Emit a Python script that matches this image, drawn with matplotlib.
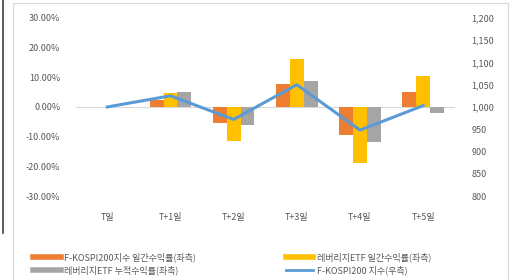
import matplotlib.pyplot as plt
import numpy as np
from matplotlib.lines import Line2D
from matplotlib.patches import Rectangle
from matplotlib.ticker import FuncFormatter

plt.rcParams['font.family'] = ['Noto Sans CJK KR', 'DejaVu Sans']

categories = ['T일', 'T+1일', 'T+2일', 'T+3일', 'T+4일', 'T+5일']
kospi_daily = [0.0, 2.5, -5.5, 7.8, -9.6, 5.0]          # % (좌측)
lev_daily = [0.0, 4.8, -11.5, 16.2, -19.0, 10.3]        # % (좌측)
lev_cum = [0.0, 5.2, -6.0, 8.8, -11.8, -2.2]            # % (좌측)
kospi_index = [1000, 1025, 972, 1050, 948, 1003]        # (우측)

labels = ['F-KOSPI200지수 일간수익률(좌측)', '레버리지ETF 일간수익률(좌측)',
          '레버리지ETF 누적수익률(좌측)', 'F-KOSPI200 지수(우측)']
colors = ['#ED7D31', '#FFC000', '#A5A5A5', '#5B9BD5']
txt = '#595959'

fig = plt.figure(figsize=(5.15, 2.8), dpi=100)
ax = fig.add_axes([0.147, 0.30, 0.736, 0.636])
ax2 = ax.twinx()

x = np.arange(len(categories))
w = 0.22
ax.bar(x - w, kospi_daily, w, color=colors[0], zorder=2)
ax.bar(x, lev_daily, w, color=colors[1], zorder=2)
ax.bar(x + w, lev_cum, w, color=colors[2], zorder=2)
ax.axhline(0, color='#D9D9D9', lw=0.8, zorder=1)

ax2.plot(x, kospi_index, color=colors[3], lw=2.2)

ax.set_xlim(-0.5, len(categories) - 0.5)
ax.set_ylim(-30, 30)
ax.set_yticks(np.arange(-30, 31, 10))
ax.yaxis.set_major_formatter(FuncFormatter(lambda v, p: f'{v:.2f}%'))
ax2.set_ylim(800, 1200)
ax2.set_yticks(np.arange(800, 1201, 50))
ax2.yaxis.set_major_formatter(FuncFormatter(lambda v, p: f'{int(v):,}'))

ax.set_xticks(x)
ax.set_xticklabels(categories)
for a in (ax, ax2):
    for s in a.spines.values():
        s.set_visible(False)
ax.tick_params(axis='x', length=0, pad=12, labelsize=6.5, colors=txt)
ax.tick_params(axis='y', length=0, pad=11, labelsize=6.5, colors=txt)
ax2.tick_params(axis='y', length=0, pad=12, labelsize=6.5, colors=txt)

handles = [Line2D([], [], color=c, lw=4 if i < 3 else 2) for i, c in enumerate(colors)]
order = [0, 2, 1, 3]
fig.legend([handles[i] for i in order], [labels[i] for i in order],
           ncol=2, loc='upper left', bbox_to_anchor=(0.058, 0.11),
           frameon=False, fontsize=6.5, labelcolor=txt, handlelength=3.0,
           columnspacing=10.0, handletextpad=0.4, labelspacing=0.35,
           borderaxespad=0)

# chart border
fig.add_artist(Rectangle((13 / 515, -0.01), 495 / 515, 1 - 3 / 280 + 0.01,
                         transform=fig.transFigure, fill=False,
                         edgecolor='#D9D9D9', lw=0.8))
fig.add_artist(Line2D([3 / 515, 3 / 515], [1, 1 - 233 / 280],
                      transform=fig.transFigure, color='#404040', lw=1.2))

fig.savefig('out.png', dpi=100)
